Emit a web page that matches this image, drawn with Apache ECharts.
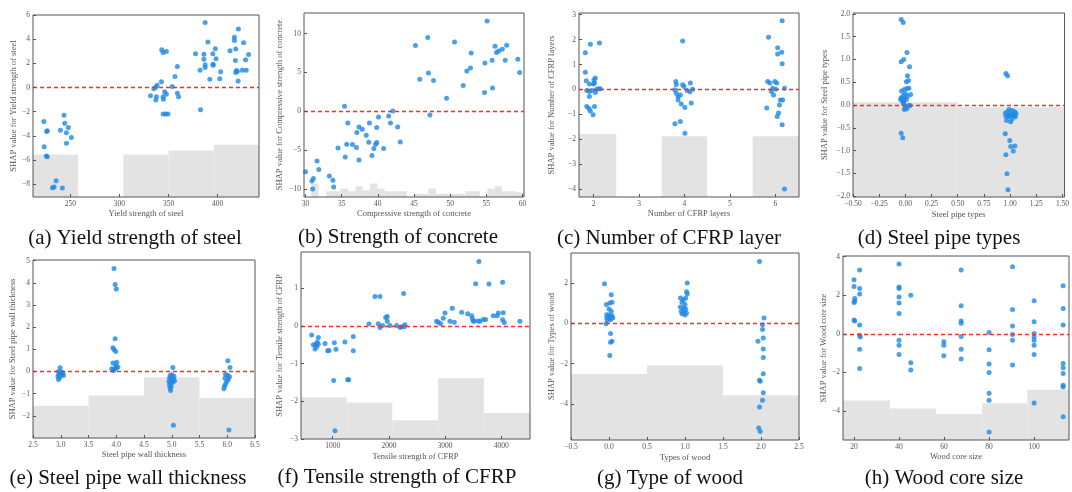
<!DOCTYPE html>
<html>
<head>
<meta charset="utf-8">
<script src="https://cdn.jsdelivr.net/npm/echarts@6/dist/echarts.min.js"></script>
<style>
  html, body { margin: 0; padding: 0; background: #fff; }
  #chart { width: 1072px; height: 492px; }
</style>
</head>
<body>
<div id="chart"></div>
<script>
// ---------- SHAP dependence data: [feature value, SHAP value] ----------
const yieldPts = [
  [223,-2.8],[226,-3.63],[226.5,-3.58],[223.4,-4.9],[225.5,-5.65],[226.5,-5.73],[231.8,-8.28],[233.5,-8.22],
  [235.5,-7.7],[241.9,-8.3],[243.6,-2.3],[244.3,-2.96],[239.9,-3.52],[248,-3.3],[246,-3.74],[251,-4.13],[246,-4.6],
  [343,3.12],[344.4,2.9],[347.7,2.98],[358.9,1.74],[356.5,0.91],[342.7,0.49],[353.7,0.08],[338.3,0.19],[337,0.02],
  [335,-0.09],[331.6,-0.67],[337.6,-0.75],[337,-1.03],[346,-0.34],[344.4,-0.75],[347.7,-0.56],[344.7,-0.97],
  [358.9,-0.47],[360.2,-0.75],[344.4,-2.19],[347,-2.19],[349.4,-2.19],
  [387.2,5.39],[390,3.76],[377.4,2.79],[385.9,2.76],[385.9,2.35],[387.2,1.88],[387.2,1.66],[395,2.79],[397.6,3.2],
  [398.3,2.38],[395.3,1.93],[395.3,1.85],[382,1.43],[403,1.3],[392,0.69],[402,0.72],[382.5,-1.83],
  [421,4.84],[417,4.17],[417,3.9],[418.3,3.18],[412.5,3.04],[426.3,3.7],[431.4,2.73],[428.3,2.29],[418,2.24],
  [419,1.41],[418.3,1.24],[420,1.32],[425,1.43],[429,1.43],[420.7,0.55]
];
const concretePts = [
  [30.0,-7.77],[30.9,-8.93],[31.1,-8.63],[31.0,-9.96],[31.6,-6.36],[31.85,-7.47],[33.3,-8.29],[33.8,-8.85],
  [33.9,-9.7],[34.5,-4.69],[35.4,0.66],[35.5,-5.85],[35.7,-4.22],[35.85,-1.48],[36.5,-4.26],[37.1,-2.72],
  [37.05,-4.65],[37.4,-1.99],[37.4,-6.23],[37.85,-2.29],[38.4,-3.06],[38.85,-1.48],[38.75,-3.96],[39.2,-5.68],
  [39.45,-4.78],[39.7,-4.22],[39.85,-4.0],[39.85,-2.08],[40.1,-0.71],[40.8,-4.78],[41.5,-0.58],[41.75,-1.48],
  [42.07,0.06],[42.75,-1.99],[43.1,-3.92],
  [45.2,8.46],[45.8,4.13],[46.9,9.49],[47.0,4.95],[47.2,-0.45],[47.7,3.96],[49.5,1.69],[50.6,8.93],[51.8,3.32],
  [52.3,5.2],[52.8,5.59],[52.9,7.52],[54.75,2.42],[54.8,6.23],[55.1,11.63],[55.8,6.57],[55.85,3.02],[56.2,8.37],
  [56.4,7.56],[56.7,7.77],[57.2,7.99],[57.6,6.57],[57.8,8.5],[59.35,6.7],[59.6,4.99]
];
const layersPts = [
  [1.82,1.47],[1.93,1.81],[2.13,1.87],[1.82,0.69],[1.84,0.35],[2.01,0.39],[2.04,0.46],[1.91,0.22],[2.0,0.22],
  [2.02,0.26],[1.85,-0.04],[1.91,-0.08],[1.96,-0.04],[2.04,-0.12],[2.07,0.01],[2.11,0.03],[2.15,0.03],
  [1.91,-0.28],[1.85,-0.69],[1.9,-0.77],[1.93,-0.87],[2.02,-0.69],[1.99,-1.02],
  [3.96,1.95],[3.81,0.32],[3.82,0.2],[3.96,0.19],[3.99,0.12],[4.13,0.26],[3.79,-0.01],[3.82,-0.15],[3.86,-0.28],
  [3.91,-0.22],[4.06,-0.04],[4.12,-0.09],[4.18,0.01],[3.86,-0.42],[3.93,-0.58],[4.01,-0.73],[4.15,-0.54],
  [3.79,-1.38],[3.91,-1.29],[4.01,-1.76],
  [5.85,2.1],[6.15,2.76],[6.05,1.67],[6.05,1.42],[6.14,1.49],[6.15,1.03],[5.83,0.32],[5.88,0.26],[5.99,0.32],
  [6.03,0.26],[5.94,0.05],[6.01,0.01],[6.2,0.05],[5.91,-0.08],[5.96,-0.22],[5.81,-0.75],[6.11,-0.42],[6.16,-0.42],
  [6.09,-0.62],[6.07,-0.95],[6.04,-1.09],[6.15,-1.42],[6.2,-4.0]
];
const pipeTypePts = [
  [-0.04,1.88],[-0.02,1.81],[0.015,1.15],[-0.04,0.95],[-0.015,1.0],[0.04,0.84],[0.02,0.64],[0.01,0.51],[0.03,0.54],
  [-0.037,0.31],[-0.01,0.34],[0.015,0.36],[0.034,0.37],[0.05,0.23],[0,0.25],[-0.02,0.21],[0.02,0.19],[-0.04,0.16],
  [-0.01,0.14],[0.01,0.12],[-0.03,0.10],[-0.015,0.07],[0.03,-0.01],[0.045,-0.01],[0,-0.04],[0.015,-0.08],
  [-0.01,-0.10],[-0.02,0.04],[-0.045,0.12],[-0.04,-0.62],[-0.025,-0.72],
  [0.96,0.69],[0.976,0.64],[0.99,-0.10],[1.02,-0.12],[1.045,-0.15],[0.975,-0.15],[1.006,-0.19],[1.037,-0.23],
  [0.96,-0.25],[0.99,-0.26],[1.05,-0.26],[1.02,-0.30],[0.966,-0.34],[1.006,-0.37],[0.985,-0.23],[1.027,-0.21],
  [0.954,-0.18],[1.058,-0.19],[0.954,-0.63],[0.997,-0.78],[1.006,-0.91],[1.046,-0.90],[1.03,-1.01],[0.96,-1.09],
  [0.97,-1.51],[0.98,-1.86]
];
const thicknessPts = [
  [2.99,0.17],[2.96,0.0],[3.01,-0.03],[3.04,-0.06],[2.97,-0.12],[3.02,-0.15],[3.05,-0.18],[2.95,-0.21],[2.98,-0.27],[2.96,-0.36],
  [3.96,4.65],[3.98,3.93],[4.0,3.72],[3.98,1.48],[3.94,1.07],[3.96,0.99],[3.99,0.9],[3.94,0.38],[4.01,0.42],
  [3.99,0.27],[3.92,0.12],[3.96,0.09],[4.0,0.15],[4.03,0.2],[3.95,0.05],
  [5.02,0.18],[4.97,-0.18],[5.0,-0.15],[5.04,-0.21],[4.96,-0.3],[4.99,-0.36],[5.03,-0.33],[4.95,-0.45],[4.98,-0.51],
  [5.02,-0.48],[5.05,-0.42],[4.96,-0.6],[4.99,-0.66],[4.97,-0.75],[4.98,-0.86],[5.03,-2.42],
  [6.01,0.48],[6.05,0.18],[5.97,-0.12],[6.01,-0.18],[6.04,-0.24],[5.96,-0.3],[6.02,-0.36],[5.99,-0.45],[5.97,-0.56],
  [5.95,-0.66],[5.94,-0.78],[6.03,-2.64]
];
const tensilePts = [
  [627,-0.24],[656,-0.50],[698,-0.49],[727,-0.43],[745,-0.49],[745,-0.31],[686,-0.61],[716,-0.55],[864,-0.47],
  [911,-0.66],[935,-0.65],[1030,-0.45],[1059,-0.62],[1219,-0.43],[1367,-0.28],[1367,-0.66],[1018,-1.45],
  [1267,-1.43],[1285,-1.43],[1041,-2.78],
  [1646,0.05],[1753,0.78],[1842,0.78],[1812,0.06],[1842,-0.04],[1889,0.01],[1943,0.22],[1972,0.25],[1972,0.12],
  [2020,0.01],[2138,0.01],[2197,-0.04],[2227,-0.02],[2263,0.86],[2274,-0.02],[2286,0.03],
  [2849,0.12],[2879,0.10],[2921,0.06],[2968,0.2],[2998,0.34],[3086,0.12],[3128,0.47],[3164,0.1],[3294,0.36],
  [3401,0.32],[3472,0.27],[3484,0.19],[3502,0.12],[3520,0.13],[3543,1.12],[3590,0.13],[3602,1.71],[3620,0.12],
  [3679,0.17],[3721,0.17],[3780,1.11],[3857,0.27],[3928,0.27],[3946,0.34],[4023,1.16],[4023,0.16],[4035,0.35],
  [4053,0.09],[4331,0.12]
];
const woodTypePts = [
  [-0.06,1.97],[0.03,1.42],[-0.035,0.93],[0.01,1.01],[0.04,1.04],[0.0,0.71],[0.03,0.6],[-0.03,0.43],[0.0,0.41],
  [0.04,0.38],[-0.03,0.26],[0.01,0.31],[0.05,0.26],[-0.02,0.15],[0.02,0.18],[-0.04,-0.02],[0.02,-0.51],
  [0.04,-0.89],[0.02,-0.94],[0.01,-1.6],
  [1.03,2.0],[1.02,1.57],[1.03,1.47],[0.94,1.26],[0.98,1.17],[1.01,1.26],[0.96,1.04],[1.0,0.93],[0.94,0.81],
  [0.98,0.76],[1.01,0.71],[0.95,0.6],[0.98,0.55],[1.02,0.51],[0.96,0.48],[1.0,0.41],
  [1.98,3.07],[2.04,0.26],[2.02,-0.07],[2.02,-0.31],[2.03,-0.73],[1.96,-0.89],[2.03,-1.27],[2.03,-1.69],
  [2.03,-2.5],[1.98,-2.83],[1.99,-2.88],[2.03,-3.45],[2.02,-3.82],[1.98,-4.15],[1.97,-5.19],[1.99,-5.37]
];
const corePts = [
  [20,2.8],[20,2.45],[20.3,1.83],[20.3,1.69],[20,1.62],[20,0.71],[20.3,0.66],
  [22.5,3.3],[22.5,2.35],[22.5,2.06],[22.5,0.45],[22.5,-0.07],[22.8,-0.16],[22.5,-0.8],[22.5,-1.8],
  [40,3.61],[40,2.42],[40,2.35],[40,1.9],[40,1.59],[40,1.05],[40,-0.33],[40,-0.59],[40,-1.07],
  [45.2,2.0],[45.2,-1.5],[45.2,-1.88],
  [59.9,-0.41],[59.9,-0.59],[59.9,-1.14],
  [67.6,3.3],[67.6,1.45],[67.6,0.66],[67.6,0.55],[67.6,-0.14],[67.6,-0.8],[67.6,-1.31],
  [80,0.07],[80,-0.83],[80,-1.56],[80,-2.0],[80,-3.08],[80,-3.44],[80,-5.08],
  [90.4,3.47],[90.4,1.26],[90.4,0.4],[90.4,-0.03],[90.4,-0.33],[90.4,-1.62],
  [100,1.71],[100,0.62],[100,0.02],[100,-0.16],[100,-0.33],[100,-0.59],[100,-1.07],[100,-3.58],
  [112.9,2.49],[112.9,1.31],[112.9,0.45],[112.9,-1.54],[112.9,-1.76],[112.9,-2.06],[112.9,-2.66],[112.9,-2.75],[112.9,-4.3]
];

// ---------- background feature histograms: [bin start, bin end, bar top on the SHAP scale] ----------
const yieldHist = [[212,258,-5.53],[304,350,-5.53],[350,396,-5.2],[396,442,-4.73]];
const concreteHist = [
  [30.8,31.8,-9.27],[32.85,33.85,-10.26],[33.85,34.85,-10.26],[34.85,35.9,-9.91],[35.9,36.9,-10.26],
  [36.9,37.9,-9.61],[37.9,38.9,-10.13],[38.9,39.95,-9.27],[39.95,40.95,-9.91],[40.95,41.95,-10.26],
  [41.95,43.0,-10.26],[43.0,44.0,-10.26],[45.0,46.0,-10.6],[46.0,47.0,-10.6],[47.0,48.05,-9.91],
  [48.05,49.05,-10.6],[49.05,50.05,-10.6],[50.05,51.1,-10.6],[51.1,52.1,-10.6],[52.1,53.1,-10.26],
  [53.1,54.1,-10.26],[55.15,56.15,-9.91],[56.15,57.15,-9.61],[57.15,58.2,-10.26],[58.2,59.2,-10.26],
  [59.2,60.2,-10.4]
];
const layersHist = [[1.68,2.5,-1.79],[3.5,4.5,-1.88],[5.5,6.52,-1.88]];
const pipeTypeHist = [[-0.5,0.5,0.06],[0.5,1.52,-0.05]];
const thicknessHist = [[2.5,3.5,-1.54],[3.5,4.5,-1.08],[4.5,5.5,-0.26],[5.5,6.5,-1.19]];
const tensileHist = [[437,1250,-1.89],[1250,2060,-2.03],[2060,2875,-2.5],[2875,3690,-1.39],[3690,4510,-2.31]];
const woodTypeHist = [[-0.5,0.5,-2.51],[0.5,1.5,-2.08],[1.5,2.5,-3.57]];
const coreHist = [[15.1,36,-3.46],[36,56.5,-3.87],[56.5,76.8,-4.15],[76.8,97,-3.6],[97,117.5,-2.9]];

// ---------- tick values ----------
const yieldXTicks = [250,300,350,400], yieldYTicks = [-8,-6,-4,-2,0,2,4,6];
const concreteXTicks = [30,35,40,45,50,55,60], concreteYTicks = [-10,-5,0,5,10];
const layersXTicks = [2,3,4,5,6], layersYTicks = [-4,-3,-2,-1,0,1,2,3];
const pipeTypeXTicks = [-0.5,-0.25,0,0.25,0.5,0.75,1,1.25,1.5], pipeTypeYTicks = [-2,-1.5,-1,-0.5,0,0.5,1,1.5,2];
const thicknessXTicks = [2.5,3,3.5,4,4.5,5,5.5,6,6.5], thicknessYTicks = [-2,-1,0,1,2,3,4,5];
const tensileXTicks = [1000,2000,3000,4000], tensileYTicks = [-3,-2,-1,0,1];
const woodTypeXTicks = [-0.5,0,0.5,1,1.5,2,2.5], woodTypeYTicks = [-4,-2,0,2];
const coreXTicks = [20,40,60,80,100], coreYTicks = [-4,-2,0,2,4];

// ---------- panel definitions ----------
const panels = [
  { pts: yieldPts, hist: yieldHist, xTicks: yieldXTicks, yTicks: yieldYTicks, xRange: [212, 442], yRange: [-9.05, 6],
    xDec: 0, yDec: 0, xName: 'Yield strength of steel', yName: 'SHAP value for Yield strength of steel',
    caption: '(a) Yield strength of steel' },
  { pts: concretePts, hist: concreteHist, xTicks: concreteXTicks, yTicks: concreteYTicks, xRange: [29.8, 60.2], yRange: [-11, 12.65],
    xDec: 0, yDec: 0, xName: 'Compressive strength of concrete', yName: 'SHAP value for Compressive strength of concrete',
    caption: '(b) Strength of concrete' },
  { pts: layersPts, hist: layersHist, xTicks: layersXTicks, yTicks: layersYTicks, xRange: [1.68, 6.52], yRange: [-4.32, 3.07],
    xDec: 0, yDec: 0, xName: 'Number of CFRP layers', yName: 'SHAP value for Number of CFRP layers',
    caption: '(c) Number of CFRP layer' },
  { pts: pipeTypePts, hist: pipeTypeHist, xTicks: pipeTypeXTicks, yTicks: pipeTypeYTicks, xRange: [-0.5, 1.52], yRange: [-2.02, 2.02],
    xDec: 2, yDec: 1, xName: 'Steel pipe types', yName: 'SHAP value for Steel pipe types',
    caption: '(d) Steel pipe types' },
  { pts: thicknessPts, hist: thicknessHist, xTicks: thicknessXTicks, yTicks: thicknessYTicks, xRange: [2.5, 6.5], yRange: [-3, 5.03],
    xDec: 1, yDec: 0, xName: 'Steel pipe wall thickness', yName: 'SHAP value for Steel pipe wall thickness',
    caption: '(e) Steel pipe wall thickness' },
  { pts: tensilePts, hist: tensileHist, xTicks: tensileXTicks, yTicks: tensileYTicks, xRange: [437, 4510], yRange: [-3, 1.96],
    xDec: 0, yDec: 0, xName: 'Tensile strength of CFRP', yName: 'SHAP value for Tensile strength of CFRP',
    caption: '(f) Tensile strength of CFRP' },
  { pts: woodTypePts, hist: woodTypeHist, xTicks: woodTypeXTicks, yTicks: woodTypeYTicks, xRange: [-0.5, 2.5], yRange: [-5.79, 3.49],
    xDec: 1, yDec: 0, xName: 'Types of wood', yName: 'SHAP value for Types of wood',
    caption: '(g) Type of wood' },
  { pts: corePts, hist: coreHist, xTicks: coreXTicks, yTicks: coreYTicks, xRange: [15.1, 115.5], yRange: [-5.5, 4.03],
    xDec: 0, yDec: 0, xName: 'Wood core size', yName: 'SHAP value for Wood core size',
    caption: '(h) Wood core size' }
];

// ---------- layout (pixels) ----------
const layout = [
  { left: 33,  top: 15,  w: 226, h: 182, xGap: 9.5,  yGap: 14,   cx: 135, cy: 238 },
  { left: 304, top: 13,  w: 220, h: 184, xGap: 11.5, yGap: 19.5, cx: 398, cy: 237 },
  { left: 579, top: 13,  w: 220, h: 184, xGap: 11,   yGap: 22.5, cx: 669, cy: 238 },
  { left: 853, top: 13,  w: 216, h: 184, xGap: 13.5, yGap: 23.5, cx: 939, cy: 238 },
  { left: 33,  top: 260, w: 222, h: 178, xGap: 12,   yGap: 15.5, cx: 128, cy: 478 },
  { left: 301, top: 252, w: 229, h: 187, xGap: 13,   yGap: 16.5, cx: 397, cy: 477 },
  { left: 571, top: 253, w: 228, h: 187, xGap: 13,   yGap: 14.5, cx: 670, cy: 478 },
  { left: 843, top: 256, w: 226, h: 184, xGap: 11,   yGap: 13.5, cx: 944, cy: 478 }
];

const SERIF = '"Liberation Serif", "DejaVu Serif", serif';
const AXIS_GREY = '#555';
const POINT_BLUE = '#1e88e5';
const HIST_GREY = '#e3e3e3';

function tickFormatter(dec) {
  return v => Number(v).toFixed(dec).replace('-', '\u2212');
}

const option = { animation: false, backgroundColor: '#fff', grid: [], xAxis: [], yAxis: [], series: [], graphic: [] };

panels.forEach((p, i) => {
  const L = layout[i];
  option.grid.push({
    left: L.left, top: L.top, width: L.w, height: L.h,
    show: true, borderColor: AXIS_GREY, borderWidth: 1, z: 5
  });
  option.xAxis.push({
    type: 'value', gridIndex: i, min: p.xRange[0], max: p.xRange[1], z: 6,
    name: p.xName, nameLocation: 'middle', nameGap: L.xGap,
    nameTextStyle: { fontFamily: SERIF, fontSize: 8.5, color: AXIS_GREY },
    axisLine: { show: false, onZero: false },
    axisTick: { show: true, inside: true, length: 3, customValues: p.xTicks, lineStyle: { color: AXIS_GREY } },
    axisLabel: { customValues: p.xTicks, formatter: tickFormatter(p.xDec), fontFamily: SERIF, fontSize: 7.5, color: AXIS_GREY, margin: 3 },
    splitLine: { show: false }
  });
  option.yAxis.push({
    type: 'value', gridIndex: i, min: p.yRange[0], max: p.yRange[1], z: 6,
    name: p.yName, nameLocation: 'middle', nameGap: L.yGap,
    nameTextStyle: { fontFamily: SERIF, fontSize: 8.5, color: AXIS_GREY },
    axisLine: { show: false, onZero: false },
    axisTick: { show: true, inside: true, length: 3, customValues: p.yTicks, lineStyle: { color: AXIS_GREY } },
    axisLabel: { customValues: p.yTicks, formatter: tickFormatter(p.yDec), fontFamily: SERIF, fontSize: 7.5, color: AXIS_GREY, margin: 3 },
    splitLine: { show: false }
  });

  // feature distribution drawn as grey bars rising from the bottom of the plot
  const base = p.yRange[0];
  option.series.push({
    type: 'custom', xAxisIndex: i, yAxisIndex: i, data: p.hist, z: 1, silent: true, clip: true,
    encode: { x: [0, 1], y: 2 },
    renderItem: (params, api) => {
      const a = api.coord([api.value(0), api.value(2)]);
      const b = api.coord([api.value(1), base]);
      return { type: 'rect', shape: { x: a[0], y: a[1], width: b[0] - a[0], height: b[1] - a[1] }, style: { fill: HIST_GREY } };
    }
  });

  // SHAP values with the zero reference line
  option.series.push({
    type: 'scatter', xAxisIndex: i, yAxisIndex: i, data: p.pts, z: 3, silent: true,
    symbolSize: 5, itemStyle: { color: POINT_BLUE },
    markLine: {
      silent: true, symbol: 'none', label: { show: false }, animation: false,
      lineStyle: { color: '#ff2a2a', type: [4, 3], width: 1.3 },
      data: [{ yAxis: 0 }]
    }
  });

  option.graphic.push({
    type: 'text', x: L.cx, y: L.cy, silent: true,
    style: { text: p.caption, fontFamily: SERIF, fontSize: 21, fill: '#111', align: 'center', verticalAlign: 'middle' }
  });
});

const chart = echarts.init(document.getElementById('chart'), null, { renderer: 'canvas' });
chart.setOption(option);
</script>
</body>
</html>
